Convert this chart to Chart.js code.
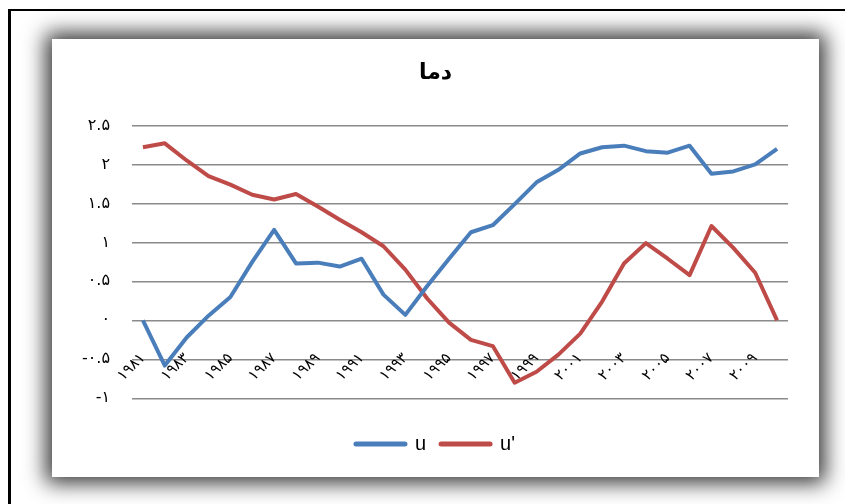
<!DOCTYPE html>
<html>
<head>
<meta charset="utf-8">
<script src="https://cdn.jsdelivr.net/npm/chart.js@4"></script>
<style>
  html, body { margin: 0; padding: 0; background: #fff; width: 845px; height: 504px; overflow: hidden; }
  #frame { position: absolute; left: 8px; top: 9px; width: 845px; height: 500px;
           border-left: 3px solid #000; border-top: 2px solid #000; }
  #card { position: absolute; left: 52px; top: 39px; width: 767px; height: 438px; background: #fff;
          box-shadow: 0 0 20px 6px rgba(0, 0, 0, 0.8); }
  canvas { display: block; }
</style>
</head>
<body>
<div id="frame"></div>
<div id="card"><canvas id="chart" width="767" height="438"></canvas></div>
<script>
// Years 1981–2010 written with Persian digits
const years = ['۱۹۸۱', '۱۹۸۲', '۱۹۸۳', '۱۹۸۴', '۱۹۸۵', '۱۹۸۶', '۱۹۸۷', '۱۹۸۸', '۱۹۸۹', '۱۹۹۰',
               '۱۹۹۱', '۱۹۹۲', '۱۹۹۳', '۱۹۹۴', '۱۹۹۵', '۱۹۹۶', '۱۹۹۷', '۱۹۹۸', '۱۹۹۹', '۲۰۰۰',
               '۲۰۰۱', '۲۰۰۲', '۲۰۰۳', '۲۰۰۴', '۲۰۰۵', '۲۰۰۶', '۲۰۰۷', '۲۰۰۸', '۲۰۰۹', '۲۰۱۰'];

// Mann-Kendall style statistics for temperature
const u = [0, -0.58, -0.22, 0.06, 0.3, 0.75, 1.16, 0.73, 0.74, 0.69,
           0.79, 0.33, 0.07, 0.44, 0.79, 1.13, 1.22, 1.49, 1.77, 1.93,
           2.14, 2.22, 2.24, 2.17, 2.15, 2.24, 1.88, 1.91, 2.0, 2.2];
const uPrime = [2.22, 2.27, 2.05, 1.85, 1.74, 1.61, 1.55, 1.62, 1.46, 1.29,
                1.13, 0.95, 0.65, 0.28, -0.03, -0.25, -0.33, -0.8, -0.66, -0.44,
                -0.17, 0.24, 0.73, 0.99, 0.79, 0.58, 1.21, 0.93, 0.61, 0];

const seriesNames = ['u', "u'"];
const chartTitle = 'دما';
const yMin = -1, yMax = 2.5, yStep = 0.5;

const faDigits = '۰۱۲۳۴۵۶۷۸۹';
function toPersian(v) {
  const s = String(Math.round(v * 100) / 100);
  return s.replace(/[0-9]/g, d => faDigits[+d]);
}

const persianFont = 'DejaVu Sans';

new Chart(document.getElementById('chart'), {
  type: 'line',
  data: {
    labels: years,
    datasets: [
      { label: seriesNames[0], data: u, borderColor: '#4A7EBB', backgroundColor: '#4A7EBB',
        borderWidth: 4, pointRadius: 0, tension: 0, fill: false, borderJoinStyle: 'round' },
      { label: seriesNames[1], data: uPrime, borderColor: '#BE4B48', backgroundColor: '#BE4B48',
        borderWidth: 4, pointRadius: 0, tension: 0, fill: false, borderJoinStyle: 'round' }
    ]
  },
  options: {
    responsive: false,
    animation: false,
    devicePixelRatio: 1,
    layout: { padding: { left: 0, right: 0, top: 0, bottom: 13 } },
    plugins: {
      title: {
        display: true, text: chartTitle, color: '#000',
        font: { family: persianFont, size: 22, weight: 'bold' },
        padding: { top: 21, bottom: 39 }
      },
      legend: {
        position: 'bottom',
        title: { display: true, text: '', font: { size: 12, lineHeight: 1 }, padding: { top: 8.7, bottom: 0 } },
        labels: {
          usePointStyle: true, pointStyle: 'line', pointStyleWidth: 49,
          padding: 15, color: '#000',
          font: { family: 'Liberation Sans', size: 20 },
          generateLabels(chart) {
            const items = Chart.defaults.plugins.legend.labels.generateLabels(chart);
            items.forEach(it => { it.lineCap = 'round'; it.lineWidth = 5; });
            return items;
          }
        }
      },
      tooltip: { enabled: false }
    },
    scales: {
      y: {
        min: yMin, max: yMax,
        ticks: { stepSize: yStep, padding: 22, color: '#000',
                 font: { family: persianFont, size: 16 },
                 callback: v => toPersian(v) },
        grid: { color: '#8a8a8a', lineWidth: 1.5, drawTicks: false },
        border: { display: false },
        afterFit(scale) { scale.width = 80; }
      },
      // empty right-hand margin scale, keeps title and legend centred on the card
      yRight: {
        position: 'right',
        grid: { display: false, drawTicks: false },
        border: { display: false },
        ticks: { display: false },
        afterFit(scale) { scale.width = 31; }
      },
      x: {
        position: { y: 0 },
        offset: true,
        grid: { display: false, drawTicks: false },
        border: { display: false },
        ticks: {
          autoSkip: false, minRotation: 45, maxRotation: 45, padding: 29, color: '#000',
          font: { family: persianFont, size: 15 },
          callback(value, index) { return index % 2 === 0 ? this.getLabelForValue(value) : null; }
        }
      }
    }
  }
});
</script>
</body>
</html>
